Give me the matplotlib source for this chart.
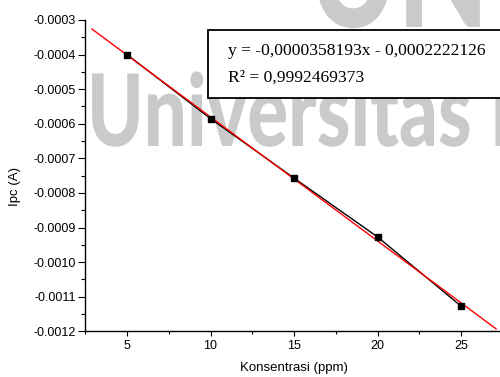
import matplotlib
matplotlib.use("Agg")
import matplotlib.pyplot as plt
import numpy as np
from matplotlib.patheffects import AbstractPathEffect
from matplotlib.transforms import Affine2D
from matplotlib.patches import Rectangle
from matplotlib.ticker import FixedLocator, MultipleLocator

# Calibration data
konsentrasi = [5, 10, 15, 20, 25]
ipc = [-0.000400, -0.000585, -0.000757, -0.000927, -0.001127]

# Linear fit shown in the legend box
slope = -0.0000358193
intercept = -0.0002222126
r_squared_text = "R\u00b2 = 0,9992469373"
equation_text = "y = -0,0000358193x - 0,0002222126"
fit_x_range = [2.9, 27.1]

x_ticks = [5, 10, 15, 20, 25]
x_tick_labels = ["5", "10", "15", "20", "25"]
y_ticks = [-0.0012, -0.0011, -0.0010, -0.0009, -0.0008, -0.0007,
           -0.0006, -0.0005, -0.0004, -0.0003]
y_tick_labels = ["-0.0012", "-0.0011", "-0.0010", "-0.0009", "-0.0008",
                 "-0.0007", "-0.0006", "-0.0005", "-0.0004", "-0.0003"]

W, H, DPI = 500, 377, 100


class HStretch(AbstractPathEffect):
    """Squeeze glyph outlines horizontally about display x = 0."""

    def __init__(self, sx):
        super().__init__()
        self.sx = sx

    def draw_path(self, renderer, gc, tpath, affine, rgbFace=None):
        renderer.draw_path(gc, tpath, affine + Affine2D().scale(self.sx, 1.0), rgbFace)


fig = plt.figure(figsize=(W / DPI, H / DPI), dpi=DPI)
fig.patch.set_facecolor("white")

left_px, right_px = 85.25, 502.75
top_px, bottom_px = 20.0, 331.3
ax = fig.add_axes([left_px / W, 1 - bottom_px / H,
                   (right_px - left_px) / W, (bottom_px - top_px) / H])
ax.patch.set_alpha(0)

# Background watermark lettering
wm_color = "#cacaca"
wm_font = dict(family="Lato", weight="black", color=wm_color, zorder=-5)
renderer = fig.canvas.get_renderer()
probe = fig.text(0, 0, "Universitas", fontsize=72, **wm_font)
natural_w = probe.get_window_extent(renderer=renderer).width
probe.remove()
sx = 385.0 / natural_w


def stretched(s, x_px, baseline_px, size):
    fig.text(x_px / sx / W, 1 - baseline_px / H, s, fontsize=size,
             ha="left", va="baseline", path_effects=[HStretch(sx)], **wm_font)


stretched("Universitas I", 87, 146, 72)
stretched("UN", 309, 27, 112)

# Data and fit
ax.plot(konsentrasi, ipc, color="black", lw=1.0, zorder=2)
fx = np.array(fit_x_range)
ax.plot(fx, slope * fx + intercept, color="red", lw=1.0, zorder=3)
ax.plot(konsentrasi, ipc, ls="none", marker="s", ms=5, color="black", zorder=4)

ax.set_xlim(2.5, 27.5)
ax.set_ylim(-0.0012, -0.0003)
ax.xaxis.set_major_locator(FixedLocator(x_ticks))
ax.set_xticklabels(x_tick_labels)
ax.xaxis.set_minor_locator(MultipleLocator(2.5))
ax.yaxis.set_major_locator(FixedLocator(y_ticks))
ax.set_yticklabels(y_tick_labels)
ax.yaxis.set_minor_locator(MultipleLocator(0.00005))

for side in ("top", "right"):
    ax.spines[side].set_visible(False)
for side in ("left", "bottom"):
    ax.spines[side].set_linewidth(1.0)

ax.tick_params(axis="y", which="major", direction="out", length=5, width=0.8, pad=2)
ax.tick_params(axis="y", which="minor", direction="out", length=3, width=0.8)
ax.tick_params(axis="x", which="major", direction="out", length=3.6, width=0.8, pad=3)
ax.tick_params(axis="x", which="minor", direction="out", length=2.2, width=0.8)
for lab in ax.get_xticklabels() + ax.get_yticklabels():
    lab.set_fontfamily("Liberation Sans")
    lab.set_fontsize(9)

ax.set_xlabel("Konsentrasi (ppm)", fontfamily="Liberation Sans", fontsize=9.5)
ax.set_ylabel("Ipc (A)", fontfamily="Liberation Sans", fontsize=9.5)
ax.xaxis.set_label_coords(0.5, -(368 - bottom_px) / (bottom_px - top_px))
ax.xaxis.label.set_va("center")
ax.yaxis.set_label_coords(-(left_px - 15) / (right_px - left_px),
                          (bottom_px - 186) / (bottom_px - top_px))
ax.yaxis.label.set_va("center")

# Regression box
box = Rectangle((208 / W, 1 - 98 / H), 320 / W, 68 / H, transform=fig.transFigure,
                facecolor="white", edgecolor="black", lw=1.3, zorder=10, clip_on=False)
ax.add_patch(box)
serif = dict(family="Liberation Serif", fontsize=12.6, color="black",
             transform=fig.transFigure, zorder=11, va="center", ha="left")
ax.text(228 / W, 1 - 51 / H, equation_text, **serif)
ax.text(228 / W, 1 - 78 / H, r_squared_text, **serif)

fig.savefig("out.png", dpi=DPI)
